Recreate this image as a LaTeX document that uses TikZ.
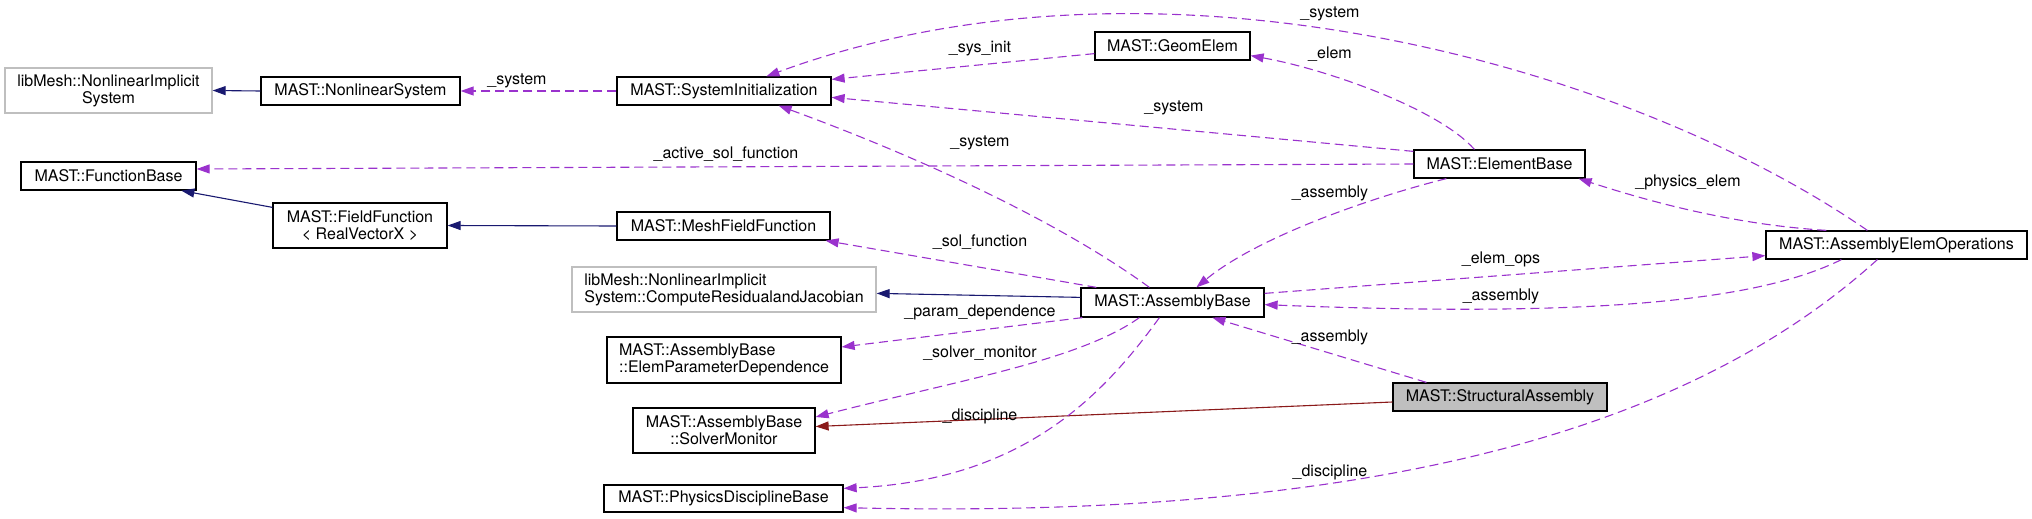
\documentclass[tikz,border=0pt]{standalone}
\usepackage{fontspec}
\setmainfont{TeX Gyre Heros}
\usetikzlibrary{arrows.meta,calc}
\definecolor{usecol}{HTML}{9A32CD}
\definecolor{pubcol}{HTML}{191970}
\definecolor{privcol}{HTML}{8B1A1A}
\definecolor{extcol}{HTML}{BFBFBF}

\begin{document}
\begin{tikzpicture}[x=1pt,y=1pt,yscale=-1,xscale=1,
        every node/.style={font=\fontsize{16}{17}\selectfont, inner sep=0pt, text=black},
        cls/.style={draw=black, line width=1.25pt, fill=white, minimum height=28},
        ext/.style={draw=extcol, line width=1.25pt, fill=white},
        focus/.style={draw=black, line width=1.25pt, fill=extcol, minimum height=28},
        pub/.style={color=pubcol, line width=1.1pt, -{Triangle[length=13pt,width=9pt]}},
        priv/.style={color=privcol, line width=1.1pt, -{Triangle[length=13pt,width=9pt]}},
        usage/.style={color=usecol, line width=1.1pt, dash pattern=on 9pt off 5pt, -{Triangle[length=13pt,width=9pt]}},
        lbl/.style={text=black}]
        \useasboundingbox (0,0) rectangle (2032,519);
        % classes
        \draw (108.5,90.5) node [ext, minimum width=207, minimum height=45, align=center] (nis) {libMesh::NonlinearImplicit\\System};
        \draw (360.5,91) node [cls, minimum width=199] (nls) {MAST::NonlinearSystem};
        \draw (724,91) node [cls, minimum width=214] (sysinit) {MAST::SystemInitialization};
        \draw (1172.5,46) node [cls, minimum width=155] (geom) {MAST::GeomElem};
        \draw (108.5,176) node [cls, minimum width=175] (fbase) {MAST::FunctionBase};
        \draw (360,225.5) node [cls, minimum width=174, minimum height=45, align=center] (ffun) {MAST::FieldFunction\\< RealVectorX >};
        \draw (723.5,226) node [cls, minimum width=213] (mesh) {MAST::MeshFieldFunction};
        \draw (1499.5,164) node [cls, minimum width=171] (ebase) {MAST::ElementBase};
        \draw (1896.5,245) node [cls, minimum width=261] (aeo) {MAST::AssemblyElemOperations};
        \draw (724,289.5) node [ext, minimum width=304, minimum height=45, align=left] (crj) {libMesh::NonlinearImplicit\\System::ComputeResidualandJacobian};
        \draw (1172.5,302.5) node [cls, minimum width=183, minimum height=29] (ab) {MAST::AssemblyBase};
        \draw (724,360) node [cls, minimum width=234, minimum height=46, align=left] (epd) {MAST::AssemblyBase\\::ElemParameterDependence};
        \draw (1500,397) node [focus, minimum width=214] (sa) {MAST::StructuralAssembly};
        \draw (724,430.5) node [cls, minimum width=182, minimum height=45, align=center] (sm) {MAST::AssemblyBase\\::SolverMonitor};
        \draw (723.5,498.5) node [cls, minimum width=239, minimum height=27] (pdb) {MAST::PhysicsDisciplineBase};
        % inheritance
        \draw [pub] (nls.west) -- (nis.east);
        \draw [pub] ($(ffun.north west)+(0,5)$) -- ($(fbase.south west)+(161,0)$);
        \draw [pub] (mesh.west) -- (ffun.east);
        \draw [pub] ($(ab.north west)+(0,10)$) -- ($(crj.north east)+(0,27)$);
        \draw [priv] ($(sa.west)+(0,5)$) -- ($(sm.east)+(0,-4)$);
        % usage
        \draw [usage] (sysinit.west) -- (nls.east);
        \draw [usage] ($(geom.south west)+(0,-7)$) -- ($(sysinit.north east)+(0,3)$);
        \draw [usage] ($(ebase.north west)+(0,2)$) -- ($(sysinit.north east)+(0,21)$);
        \draw [usage] ($(ab.north west)+(69,0)$) .. controls (1050,215) and (900,150) .. ($(sysinit.south east)+(-53,0)$);
        \draw [usage] ($(aeo.north west)+(102,0)$) .. controls (1620,60) and (1150,-65) .. ($(sysinit.north west)+(150,0)$);
        \draw [usage] (ebase.west) -- ($(fbase.east)+(0,-7)$);
        \draw [usage] ($(ebase.north west)+(61,0)$) .. controls (1440,110) and (1330,70) .. ($(geom.south east)+(0,-5)$);
        \draw [usage] ($(ebase.south west)+(33,0)$) .. controls (1380,195) and (1260,235) .. ($(ab.north west)+(116,0)$);
        \draw [usage] ($(aeo.north west)+(61,0)$) .. controls (1740,225) and (1660,205) .. ($(ebase.south east)+(-7,0)$);
        \draw [usage] ($(ab.north west)+(16,0)$) -- ($(mesh.south east)+(-5,0)$);
        \draw [usage] ($(ab.north east)+(0,6)$) -- ($(aeo.south west)+(0,-4)$);
        \draw [usage] ($(aeo.south west)+(76,0)$) .. controls (1760,300) and (1600,318) .. ($(ab.south east)+(0,-13)$);
        \draw [usage] ($(sa.north west)+(34,0)$) -- ($(ab.south west)+(132,0)$);
        \draw [usage] ($(ab.south west)+(2,0)$) -- ($(epd.east)+(0,-13)$);
        \draw [usage] ($(ab.south west)+(59,0)$) .. controls (1080,360) and (960,380) .. ($(sm.east)+(0,-13.5)$);
        \draw [usage] ($(ab.south west)+(79,0)$) .. controls (1100,400) and (1020,480) .. ($(pdb.north east)+(0,4)$);
        \draw [usage] ($(aeo.south west)+(112,0)$) .. controls (1700,420) and (1400,520) .. ($(pdb.south east)+(0,-5)$);
        % member names
        \draw (517,81) node [lbl] (lsys) {\_system};
        \draw (980,49) node [lbl] (lsysinit) {\_sys\_init};
        \draw (1174,108) node [lbl] (lsyseb) {\_system};
        \draw (980,143) node [lbl] (lsysab) {\_system};
        \draw (1330,14) node [lbl] (lsysaeo) {\_system};
        \draw (726,154) node [lbl] (lactive) {\_active\_sol\_function};
        \draw (1330,54) node [lbl] (lelem) {\_elem};
        \draw (1330,193) node [lbl] (lasmeb) {\_assembly};
        \draw (1688,182) node [lbl] (lphys) {\_physics\_elem};
        \draw (980,242) node [lbl] (lsolfun) {\_sol\_function};
        \draw (1501,259) node [lbl] (lelemops) {\_elem\_ops};
        \draw (1501,296) node [lbl] (lasmaeo) {\_assembly};
        \draw (1330,337) node [lbl] (lasmsa) {\_assembly};
        \draw (980,312) node [lbl] (lparam) {\_param\_dependence};
        \draw (980,353) node [lbl] (lsolver) {\_solver\_monitor};
        \draw (980,416) node [lbl] (ldiscab) {\_discipline};
        \draw (1330,472) node [lbl] (ldiscaeo) {\_discipline};
    \end{tikzpicture}
\end{document}
